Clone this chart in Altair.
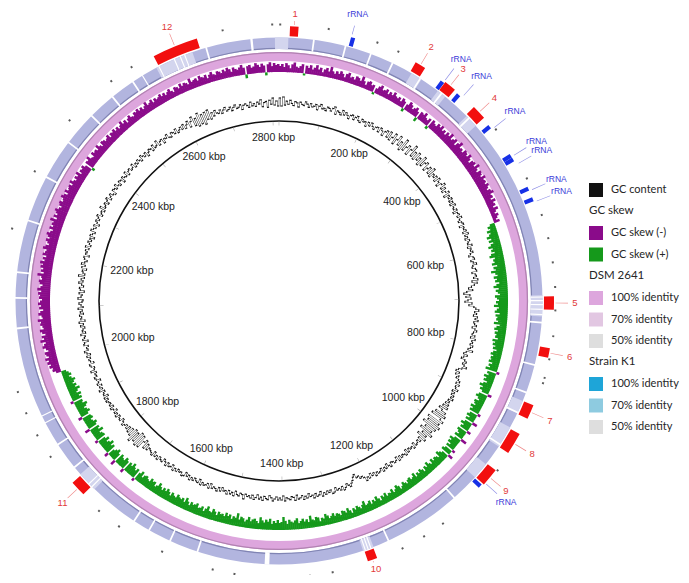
import math
import altair as alt
import pandas as pd

# ---------------- data ----------------
GENOME_KBP = 2815

SCALE_LABEL_KBP = [200, 400, 600, 800, 1000, 1200, 1400, 1600, 1800, 2000, 2200, 2400, 2600, 2800]
SCALE_TICK_KBP = list(range(0, 2801, 100))

# GC content: deviation from the mean, 720 windows (0.5 degree each)
GC_CONTENT_DEV = [
    5, -3, 6, -2, 2, -1, 3, 0, -2, 2, 1, -3, 2, 0, -1, 3, 1, -2, 2, -1, 0, 2, -3, 1, 3, -1, 0, -2, 2, 1,
    -1, 2, 4, -3, 1, 0, -2, 3, -1, 2, 0, -3, 1, 2, -2, 1, 3, -1, -2, 2, 0, 1, -3, 2, -1, 3, 0, -2, 1, 2,
    -2, 3, 1, -3, 2, 4, -2, 5, -3, 1, 6, -4, 2, 7, -2, 3, -5, 8, -3, 2, 5, -4, 3, 9, -2, 4, -3, 6, -1, 3,
    -4, 7, -2, 3, 5, -3, 1, 4, -2, 6, -3, 2, 0, 3, -2, 4, 1, -3, 2, 5, -1, 3, -2, 1, 4, -3, 2, 0, 3, -1,
    2, -2, 3, 0, -1, 2, -3, 1, 2, -1, 3, 0, -2, 1, 2, -3, 1, 0, 2, -2, 3, -1, 1, -2, 2, 0, -1, 3, -2, 1,
    0, 2, -1, -3, 1, 2, -2, 0, 3, -1, -2, 1, 2, -3, 0, 1, -2, 2, -4, 1, -2, -5, -8, -4, -10, -13, -7, -11, -6, -9,
    -12, -5, -8, -3, -1, 2, -2, 0, -3, 1, -1, 2, -2, -1, 1, -3, 0, 2, -1, -2, 1, -3, 2, -1, 0, -2, 1, -1, -3, 2,
    -4, -6, -2, -5, -7, -3, -1, -4, -2, 1, -3, -6, -8, -4, -7, -3, -5, -2, 0, -3, 1, -2, -1, 2, -3, 0, -2, 1, -1, 2,
    -2, 0, -3, 1, -4, 2, -6, -2, 3, -7, 5, -9, 2, 6, -10, 4, -8, 7, -11, 5, -6, 3, -9, 6, -4, 2, -7, 4, -3, 1,
    -2, 0, 1, -3, 2, -1, 0, -2, 1, -3, 2, 0, -1, 1, -2, 2, -3, 0, 1, -1, -2, 2, 0, -3, 1, -1, 2, -2, 0, 1,
    -1, 2, -2, 0, -3, 1, -1, 2, -2, -4, -3, -6, -5, -9, -7, -4, -2, 1, -1, -3, 0, 2, -2, 1, -1, 0, -3, 1, 2, -2,
    0, -2, 1, -1, 2, -3, 0, 1, -2, 2, -1, 0, -3, 1, -1, 2, -2, 0, 1, -3, 2, -1, -2, 1, 0, -1, 2, -3, 1, -1,
    1, -2, 0, 2, -1, -3, 1, 0, -2, 2, -1, 1, -3, 0, 2, -2, 1, -1, 0, -2, 3, -1, -2, 1, 0, -3, 2, -1, 1, -2,
    2, -1, 0, -3, 1, -2, 2, 0, -1, 1, -3, 2, -2, 0, 1, -1, 2, -3, 1, 0, -2, 1, -1, 2, -2, 0, -3, 1, 2, -1,
    0, -2, 1, -1, 2, -3, 0, 1, -2, 2, -1, -3, 1, 0, -2, 2, -1, 1, -3, 2, 0, -1, -2, 1, -4, 2, -6, -3, 5, -7,
    6, -8, 4, -5, 7, -6, 3, -4, 2, -3, 1, -2, 0, 2, -1, -3, 1, 0, -2, 2, -1, 1, -3, 0, 2, -2, 1, -1, 0, 2,
    -1, 2, -3, 1, 0, -2, 3, -1, 1, -2, 2, 0, -3, 1, 2, -1, 0, -2, 3, -1, -2, 1, 2, -3, 0, 1, -1, 2, -2, 1,
    3, -1, 0, -2, 2, 1, -3, 2, 0, -1, 3, -2, 1, 0, -2, 2, -1, 3, -3, 1, 0, 2, -2, 1, -1, 3, -2, 0, 2, -1,
    -2, 3, 0, -1, 2, -3, 1, 2, -2, 0, 3, -1, 1, -2, 4, -2, 0, 1, -3, 2, -1, 3, 0, -2, 1, 2, -3, 1, 0, 2,
    -1, 3, -2, 0, 2, -1, 1, -3, 2, 0, -2, 3, 1, -1, 2, -3, 0, 2, -1, 1, 3, -2, 0, 1, -2, 4, -1, 0, 2, -2,
    1, 3, -2, 0, 2, -1, -3, 2, 1, -1, 3, 0, -2, 2, 1, -3, 2, 0, -1, 3, -2, 1, 2, -1, 0, 3, -2, 1, -1, 2,
    0, -2, 3, 1, -1, 2, -3, 0, 2, 1, -2, 3, -1, 0, 4, -2, 1, 2, -3, 1, 0, 3, -1, -2, 2, 1, -1, 3, -2, 0,
    2, -1, 3, -2, 1, 4, -3, 2, 6, -4, 3, -6, 7, -5, 4, -7, 5, -3, 6, -4, 2, -2, 3, 0, -1, 2, -2, 1, 3, -1,
    0, 2, -2, 1, 3, -1, 0, 2, -3, 1, 2, 0, -2, 3, -1, 1, -2, 2, 0, 4, -3, 1, 2, -4, 3, -1, 5, -2, 2, -3,
]

# GC skew (x100), 720 windows (0.5 degree each); negative = GC skew (-)
GC_SKEW = [
    -6, -8, -5, -9, -7, -4, -8, -10, -6, -5, -7, -9, 2, -8, -6, -9, -5, -7, -10, -6, -8, -4, -7, -9, -6, -11, -7, -5, -8, -6,
    -9, -7, -4, -8, -10, -6, -7, -5, -9, -8, -6, -11, -7, -4, -8, -9, -6, -7, 2, -5, -8, -10, -6, -7, -9, -5, -8, -6, -10, -7,
    -6, -8, -5, -9, -7, 3, -6, -10, -8, -5, -7, -9, -6, 4, -8, -7, -10, -6, -5, -8, 3, -9, -7, -6, -10, -8, -11, -7, -9, -6,
    -10, -8, -12, -7, -9, -11, -6, -10, -13, -8, -9, -7, -11, -10, -8, -12, -9, -6, -10, -11, -8, -13, -9, -7, -11, -10, -8, -12, -9, -10,
    -8, -11, -9, -7, -10, -12, -8, -9, -6, -10, -7, -8, -5, -9, -6, -4, -7, -5, -3, -6, 5, 8, 6, 10, 7, 9, 12, 8, 11, 7,
    10, 13, 9, 11, 8, 12, 14, 9, 11, 10, 13, 8, 12, 10, 15, 11, 9, 13, 10, 12, 8, 11, 14, 9, 12, 10, 8, 13, 11, 9,
    12, 10, 14, 9, 11, 13, 8, 12, 10, 11, 9, 13, 7, 10, 12, 8, 11, 9, 10, 7, 12, 9, 11, 8, 10, 6, 9, 11, 8, 10,
    9, 11, 7, 10, 8, 12, -3, 9, 7, 11, 8, 10, 6, 9, 12, 8, 10, 7, -4, 9, 11, 8, 6, 10, 9, 7, 11, 8, 10, -3,
    8, 10, 6, 9, -5, 8, 11, 7, 9, -4, 10, 8, 6, 9, -6, 7, 11, 8, 10, 6, 9, -3, 8, 10, -5, 7, 9, 11, 6, 8,
    9, 7, 10, 6, 8, 11, 7, 9, 5, 8, 10, 7, 9, 6, 11, 8, 7, 10, 9, 6, 8, 10, 7, 5, 9, 11, 8, 6, 10, 7,
    8, 6, 10, 7, 9, 5, 8, 11, 7, 9, 6, 10, 8, 7, 12, 9, 6, 8, 10, 7, 9, 5, 8, 11, 7, 9, 10, 6, 8, 9,
    7, 10, 8, 6, 9, 11, 7, 8, 5, 9, 10, 7, 8, 12, 6, 9, 7, 10, 8, 6, 11, 9, 7, 8, 10, 6, 9, 13, 8, 7,
    10, 7, 9, 6, 11, 8, 10, 7, 9, 12, 6, 8, 10, 9, 7, 11, 8, 6, 9, 10, 7, 13, 8, 9, 6, 10, 8, 11, 7, 9,
    8, 10, 6, 9, 11, 7, 8, 12, 9, 6, 10, 8, 7, 11, 9, 8, 10, 6, 9, 12, 7, 10, 8, 9, 11, 7, 8, 10, 6, 9,
    11, 8, 10, 7, 9, 12, 8, 6, 10, 9, 11, 7, 8, 10, 9, 6, 11, 8, -3, 10, 7, 9, 12, 8, 10, -4, 9, 11, 7, 8,
    10, -5, 8, 11, 9, 7, -4, 10, 8, 12, 9, 7, 11, 8, -3, 10, 9, 7, 12, 8, 10, -5, 9, 11, 8, 7, 10, 9, -4, 8,
    11, 9, 7, 10, 12, 8, 9, -3, 10, 8, 11, 7, 9, 12, 8, 10, 7, 9, 11, 8, 6, 9, 7, 5, -5, -8, -7, -10, -8, -11,
    -9, -12, -8, -10, -11, -7, -9, -12, -10, -8, -13, -9, -11, -7, -10, -12, -8, -9, -11, -10, -13, -8, -9, -12, -10, -7, -11, -9, -12, -10,
    -8, -11, -10, -12, -9, -13, -10, -8, -11, -12, -9, -10, -14, -8, -11, -9, -12, -10, -13, -9, -11, -8, -12, -10, -9, -13, -11, -8, -10, -12,
    -9, -11, -13, -10, -8, -12, -9, -11, -10, -14, -8, -12, -9, -11, -13, -10, -8, -11, -12, -9, -10, -13, -11, -8, -12, -9, -10, -11, -8, -12,
    -9, -7, -10, -8, -11, -6, -9, -8, -10, -7, 3, -9, -8, -11, -7, -6, -10, -8, -9, -7, -11, -8, -6, -10, -9, -7, -8, -10, -6, -9,
    -8, -10, -7, -9, -6, -8, -11, -7, -9, -5, -8, -10, -7, -6, -9, -8, -10, -7, -9, -6, -8, -11, -7, -8, -10, -6, -9, -7, -8, -10,
    -7, -9, -6, -8, -10, -7, -5, -9, -8, -6, -10, -7, -9, -8, -6, -11, -7, -8, -9, -6, -10, -8, -7, -9, -5, -8, -10, -7, -6, -9,
    -8, -6, -9, -7, -10, -8, -5, -9, -7, -6, -8, -10, -7, 4, -8, -9, -6, -7, -10, -8, -6, -9, -7, 3, -8, -10, -6, -9, -7, -8,
]

ISLAND_ID = ["1", "2", "3", "4", "5", "6", "7", "8", "9", "10", "11", "12"]
ISLAND_START = [18, 233, 291, 353, 696, 781, 878, 930, 1001, 1244, 1762, 2603]
ISLAND_END = [32, 251, 311, 377, 718, 797, 902, 966, 1031, 1260, 1788, 2679]

RRNA_KBP = [123, 287, 321, 394, 453, 460, 514, 533, 1037]
RRNA_LABEL_KBP = [120, 289, 328, 400, 455, 470, 518, 538, 1028]

FEATURE_DOT_KBP = [2, 81, 163, 200, 404, 498, 562, 601, 641, 681, 719, 761, 799, 830, 839, 999,
                   1123, 1160, 1200, 1320, 1357, 1401, 1435, 1480, 1516, 1603, 1684, 1725, 1843,
                   1884, 1924, 1961, 2084, 2125, 2161, 2230, 2330, 2430, 2523, 2563, 2723, 2804]

K1_GAPS = [(58, 61), (113, 116), (158, 161), (198, 201), (252, 255), (296, 299), (359, 362),
           (696, 698), (702, 704), (709, 711), (717, 719), (726, 728), (739, 742), (812, 815),
           (861, 864), (898, 901), (960, 963), (1080, 1083), (1214, 1217), (1247, 1249),
           (1252, 1254), (1257, 1259), (1424, 1432), (1547, 1550), (1597, 1600), (1637, 1640),
           (1667, 1670), (1760, 1762), (1767, 1769), (1804, 1807), (1852, 1855), (1895, 1897),
           (1908, 1910), (2063, 2066), (2115, 2118), (2159, 2162), (2249, 2252), (2329, 2332),
           (2399, 2402), (2459, 2462), (2507, 2510), (2550, 2553), (2570, 2572), (2602, 2604),
           (2631, 2633), (2642, 2644), (2650, 2652), (2688, 2691), (2766, 2770)]
K1_LIGHT = [(2598, 2665), (2808, 2815), (0, 16), (236, 256), (290, 306), (355, 378), (694, 730),
            (878, 901), (928, 966), (1003, 1032), (1243, 1262), (1755, 1790)]

LEG_GC = ["GC content"]
LEG_SKEW = ["GC skew (-)", "GC skew (+)"]
LEG_IDENT = ["100% identity", "70% identity", "50% identity"]
COL_SKEW = ["#8a0b8a", "#15991b"]
COL_DSM = ["#dda6dd", "#e2c7e2", "#dedede"]
COL_K1 = ["#1ea5d8", "#8ecbe0", "#dedede"]

# ---------------- layout ----------------
W, H = 673, 567
CX, CY = 271, 293
R_CIRCLE = 180
R_GC = 198
R_SKEW = 229
R_DSM = (240, 249)
R_K1 = (252, 263.5)
R_BOX = (265, 275)
R_RRNA = (264.5, 273.5)
R_DOT = (275.5, 277.5)
R_LEAD0 = 276.5
R_NUM = 296
R_RRNA_TXT = 303
LEG_X = 581

theta_scale = alt.Scale(domain=[0, GENOME_KBP], range=[0, 2 * math.pi])
r_scale = alt.Scale(type="linear", domain=[0, 400], range=[0, 400], zero=True, nice=False)


def fit_radius(kbp, r, margin=6):
    """Pull a label inwards just enough to keep it inside the canvas."""
    c = math.cos(2 * math.pi * kbp / GENOME_KBP)
    if c > 0.01:
        r = min(r, (CY - margin) / c)
    elif c < -0.01:
        r = min(r, (H - margin - CY) / -c)
    return r


def arc_enc():
    return dict(
        theta=alt.Theta("a0:Q", scale=theta_scale, stack=None),
        theta2=alt.Theta2("a1:Q"),
        radius=alt.Radius("r0:Q", scale=r_scale),
        radius2=alt.Radius2("r1:Q"),
        x=alt.value(CX),
        y=alt.value(CY),
    )


def arc_df(rows):
    return pd.DataFrame(rows, columns=["a0", "a1", "r0", "r1"])


def arc_layer(rows, color):
    return alt.Chart(arc_df(rows)).mark_arc().encode(**arc_enc(), color=alt.value(color))


def text_layer(df, color, size, font="Liberation Sans"):
    return alt.Chart(df).mark_text(align="center", baseline="middle", font=font,
                                   fontSize=size, color=color).encode(
        theta=alt.Theta("a:Q", scale=theta_scale, stack=None),
        radius=alt.Radius("r:Q", scale=r_scale),
        x=alt.value(CX), y=alt.value(CY),
        text="t:N",
    )


def leg(title, y):
    return alt.Legend(title=title, orient="none", legendX=LEG_X, legendY=y)


layers = []

# DSM 2641 ring
dsm_df = arc_df([(0, GENOME_KBP, R_DSM[0], R_DSM[1])])
dsm_df["ident"] = LEG_IDENT[0]
layers.append(alt.Chart(dsm_df).mark_arc().encode(
    **arc_enc(),
    color=alt.Color("ident:N", scale=alt.Scale(domain=LEG_IDENT, range=COL_DSM),
                    legend=leg("DSM 2641", 261.5))))
layers.append(arc_layer([(0, GENOME_KBP, R_DSM[1] - 1.2, R_DSM[1])], "#b182b1"))

# Strain K1 ring
layers.append(arc_layer([(0, GENOME_KBP, R_K1[0], R_K1[1])], "#b2b5df"))
layers.append(arc_layer([(0, GENOME_KBP, R_K1[0], R_K1[0] + 1.2)], "#8084b3"))
layers.append(arc_layer([(a, b, R_K1[0], R_K1[1]) for a, b in K1_LIGHT], "#d3d5ee"))
layers.append(arc_layer([(a, b, R_K1[0] - 0.5, R_K1[1] + 0.5) for a, b in K1_GAPS], "#ffffff"))

# inner scale circle and ticks
layers.append(arc_layer([(0, GENOME_KBP, R_CIRCLE - 0.8, R_CIRCLE + 0.8)], "#111111"))
layers.append(arc_layer([(k - 0.6, k + 0.6, R_CIRCLE - 4.5, R_CIRCLE - 0.5) for k in SCALE_TICK_KBP], "#9a9a9a"))

# GC content as a jagged line (step segments + connectors)
step_gc = GENOME_KBP / len(GC_CONTENT_DEV)
gc_rows = []
for i, v in enumerate(GC_CONTENT_DEV):
    a0, a1 = i * step_gc, (i + 1) * step_gc
    r = R_GC + v
    gc_rows.append((a0 - 0.3, a1 + 0.3, r - 0.55, r + 0.55))
    rp = R_GC + GC_CONTENT_DEV[i - 1]
    gc_rows.append((a0 - 0.5, a0 + 0.5, min(rp, r) - 0.55, max(rp, r) + 0.55))
gc_df = arc_df(gc_rows)
gc_df["series"] = LEG_GC[0]
layers.append(alt.Chart(gc_df).mark_arc().encode(
    **arc_enc(),
    color=alt.Color("series:N", scale=alt.Scale(domain=LEG_GC, range=["#111111"]),
                    legend=leg(None, 175))))

# GC skew bars (slightly overlapped so no seams show)
step_sk = GENOME_KBP / len(GC_SKEW)
sk_rows = []
for i, v in enumerate(GC_SKEW):
    a0, a1 = i * step_sk, (i + 1) * step_sk + 1.0
    if v < 0:
        sk_rows.append((a0, a1, R_SKEW, R_SKEW - v, LEG_SKEW[0]))
    elif v > 0:
        sk_rows.append((a0, a1, R_SKEW - v, R_SKEW, LEG_SKEW[1]))
sk_df = pd.DataFrame(sk_rows, columns=["a0", "a1", "r0", "r1", "sign"])
layers.append(alt.Chart(sk_df).mark_arc().encode(
    **arc_enc(),
    color=alt.Color("sign:N", scale=alt.Scale(domain=LEG_SKEW, range=COL_SKEW),
                    legend=leg("GC skew", 196.5))))

# rRNA marks and island boxes
layers.append(arc_layer([(k - 3.5, k + 3.5, R_RRNA[0], R_RRNA[1]) for k in RRNA_KBP], "#1630e6"))
layers.append(arc_layer([(a, b, R_BOX[0], R_BOX[1]) for a, b in zip(ISLAND_START, ISLAND_END)], "#f20f0f"))

# small feature dots
layers.append(arc_layer([(k - 1.6, k + 1.6, R_DOT[0], R_DOT[1]) for k in FEATURE_DOT_KBP], "#5a5a5a"))

# label radii (kept inside the canvas) and leader lines
box_mid = [(a + b) / 2 for a, b in zip(ISLAND_START, ISLAND_END)]
num_r = [fit_radius(k, R_NUM) for k in box_mid]
rr_r = [fit_radius(k, R_RRNA_TXT) for k in RRNA_LABEL_KBP]
layers.append(arc_layer([(k - 0.5, k + 0.5, R_LEAD0, r - 7) for k, r in zip(box_mid, num_r)], "#ef8a8a"))
layers.append(arc_layer([(k - 0.5, k + 0.5, R_LEAD0, r - 12) for k, r in zip(RRNA_LABEL_KBP, rr_r)], "#8f8fe6"))

# scale labels
lab_df = pd.DataFrame({"a": SCALE_LABEL_KBP, "t": [f"{k} kbp" for k in SCALE_LABEL_KBP]})
lab_df["r"] = [163 - 14 * abs(math.sin(2 * math.pi * k / GENOME_KBP)) ** 4 for k in SCALE_LABEL_KBP]
layers.append(text_layer(lab_df, "#222222", 10.5))

num_df = pd.DataFrame({"a": box_mid, "t": ISLAND_ID, "r": num_r})
layers.append(text_layer(num_df, "#e23a3a", 9.5))

rr_df = pd.DataFrame({"a": RRNA_LABEL_KBP, "t": "rRNA", "r": rr_r})
layers.append(text_layer(rr_df, "#3a3ad8", 8.5))

# Strain K1 legend (legend only, zero-size arcs)
k1_df = pd.DataFrame({"a0": 0, "a1": 0, "r0": 0, "r1": 0, "ident": LEG_IDENT})
layers.append(alt.Chart(k1_df).mark_arc().encode(
    **arc_enc(),
    color=alt.Color("ident:N", scale=alt.Scale(domain=LEG_IDENT, range=COL_K1),
                    legend=leg("Strain K1", 347.5))))

chart = alt.layer(*layers).resolve_scale(color="independent").properties(
    width=W, height=H, padding=0, autosize=alt.AutoSizeParams(type="none"),
    background="white",
).configure_view(stroke=None).configure_legend(
    symbolType="square", symbolSize=196, symbolStrokeWidth=0,
    labelFont="Lato", labelFontSize=11, labelColor="#262626",
    titleFont="Lato", titleFontSize=11.5, titleFontWeight="normal", titleColor="#262626",
    labelOffset=8, rowPadding=7.5, titlePadding=10, padding=0, labelLimit=0,
)

chart.save("out.html", embed_options={"renderer": "svg", "actions": False})
